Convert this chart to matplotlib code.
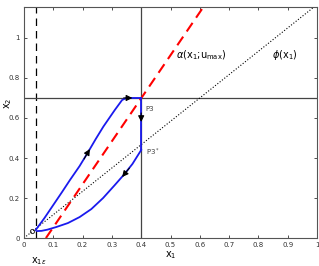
import matplotlib
matplotlib.use("Agg")
import matplotlib.pyplot as plt
import numpy as np

# Data
x1_eps = 0.04
x1_max = 0.4
x2_max = 0.7

# red dashed alpha(x1; umax): straight line
alpha_x = [0.075, 0.61]
alpha_y = [0.0, 1.15]

# black dotted phi(x1)
phi_x = [0.0, 1.0]
phi_y = [0.0, 1.167]

# blue trajectory, upper branch (rising towards P3)
up_x = [0.04, 0.07, 0.1, 0.13, 0.157, 0.19, 0.219, 0.245, 0.271, 0.31, 0.335, 0.35, 0.4]
up_y = [0.04, 0.10, 0.165, 0.23, 0.29, 0.36, 0.43, 0.495, 0.557, 0.64, 0.69, 0.70, 0.70]

# blue trajectory, vertical drop P3 -> P3*
drop_x = [0.4, 0.4]
drop_y = [0.70, 0.44]

# blue trajectory, lower branch (back to start)
low_x = [0.4, 0.37, 0.34, 0.31, 0.27, 0.23, 0.19, 0.15, 0.11, 0.08, 0.06, 0.045]
low_y = [0.44, 0.37, 0.315, 0.265, 0.20, 0.145, 0.105, 0.075, 0.055, 0.042, 0.036, 0.035]

xticks = np.arange(0, 1.01, 0.1)
xtick_labels = ["0", "0.1", "0.2", "0.3", "0.4", "0.5", "0.6", "0.7", "0.8", "0.9", "1"]
yticks = [0, 0.2, 0.4, 0.6, 0.8, 1.0]
ytick_labels = ["0", "0.2", "0.4", "0.6", "0.8", "1"]

fig = plt.figure(figsize=(3.19, 2.66), dpi=100)
ax = fig.add_axes([0.075, 0.105, 0.919, 0.869])

ax.axvline(x1_eps, color="black", ls=(0, (6, 4)), lw=0.9)
ax.axvline(x1_max, color="#444444", lw=0.9)
ax.axhline(x2_max, color="#444444", lw=0.9)

ax.plot(phi_x, phi_y, color="black", ls=":", lw=0.8)
ax.plot(alpha_x, alpha_y, color="red", ls=(0, (5, 3)), lw=1.5)

blue = "#1a1aee"
ax.plot(up_x, up_y, color=blue, lw=1.3, solid_joinstyle="round")
ax.plot(drop_x, drop_y, color=blue, lw=1.3)
ax.plot(low_x, low_y, color=blue, lw=1.3, solid_joinstyle="round")
ax.plot([0.026], [0.035], marker="o", ms=3, mfc="none", mec="#333333", mew=0.7)

# direction arrows on the trajectory
arrows = [((0.205, 0.395), (0.225, 0.445)),
          ((0.34, 0.70), (0.37, 0.70)),
          ((0.4, 0.625), (0.4, 0.58)),
          ((0.36, 0.35), (0.335, 0.305))]
for start, end in arrows:
    ax.annotate("", xy=end, xytext=start,
                arrowprops=dict(arrowstyle="-|>", color="black", lw=0.8,
                                mutation_scale=9, shrinkA=0, shrinkB=0))

ax.text(0.415, 0.645, "P3", fontsize=5, color="#444444", va="center")
ax.text(0.415, 0.43, "P3$^*$", fontsize=5, color="#444444", va="center")
ax.text(0.52, 0.915, r"$\alpha$(x$_1$;u$_{\rm max}$)", fontsize=7, va="center")
ax.text(0.845, 0.915, r"$\phi$(x$_1$)", fontsize=7, va="center")
ax.text(0.025, -0.085, r"x$_{1\epsilon}$", fontsize=7, va="top")

ax.set_xlim(0, 1)
ax.set_ylim(0, 1.155)
ax.set_xticks(xticks)
ax.set_xticklabels(xtick_labels)
ax.set_yticks(yticks)
ax.set_yticklabels(ytick_labels)
ax.tick_params(direction="in", length=2.5, width=0.6, labelsize=5,
               top=True, right=True, colors="#333333", pad=3)
for s in ax.spines.values():
    s.set_color("#555555")
    s.set_linewidth(0.8)

ax.set_xlabel("x$_1$", fontsize=7, labelpad=1)
ax.set_ylabel("x$_2$", fontsize=7, labelpad=1)
ax.yaxis.set_label_coords(-0.035, 0.585)

fig.savefig("out.png", dpi=100)
